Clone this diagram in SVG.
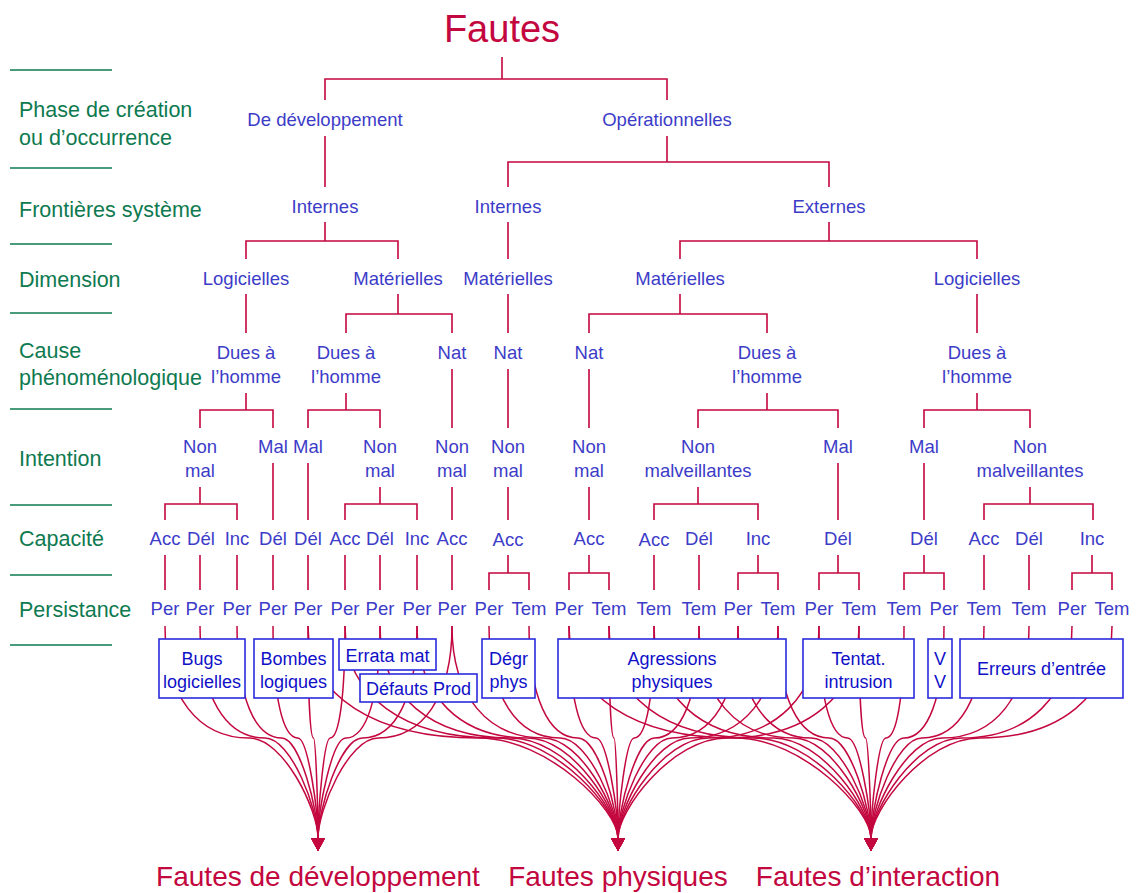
<svg xmlns="http://www.w3.org/2000/svg" width="1137" height="893" viewBox="0 0 1137 893">
  <style>
    text { font-family: "Liberation Sans", Arial, Helvetica, sans-serif; }
    .lbl { font-size: 18.5px; fill: #3c3cc8; text-anchor: middle; }
    .row { font-size: 21.5px; fill: #0e7a50; }
    .sep { stroke: #0e7a50; stroke-width: 1.5; }
    .edge { fill: none; stroke: #c3073f; stroke-width: 1.6; }
    .flow { fill: none; stroke: #c3073f; stroke-width: 1.5; marker-end: url(#arr); }
    .box rect { fill: #ffffff; stroke: #2b2bdd; stroke-width: 1.6; }
    .box text { font-size: 18px; fill: #1010c8; text-anchor: middle; }
    .title { font-size: 38px; fill: #c3073f; text-anchor: middle; }
    .out { font-size: 28px; fill: #c3073f; text-anchor: middle; }
  </style>
  <defs>
    <marker id="arr" viewBox="0 0 13 14" refX="0" refY="7" markerWidth="13" markerHeight="14" markerUnits="userSpaceOnUse" orient="auto">
      <path d="M0,0 L13,7 L0,14 z" fill="#c3073f"/>
    </marker>
  </defs>

  <!-- row captions on the left -->
  <g id="rows">
    <line class="sep" x1="10" y1="70" x2="112" y2="70"/>
    <line class="sep" x1="10" y1="168" x2="112" y2="168"/>
    <line class="sep" x1="10" y1="244" x2="112" y2="244"/>
    <line class="sep" x1="10" y1="313" x2="112" y2="313"/>
    <line class="sep" x1="10" y1="409" x2="112" y2="409"/>
    <line class="sep" x1="10" y1="505" x2="112" y2="505"/>
    <line class="sep" x1="10" y1="575" x2="112" y2="575"/>
    <line class="sep" x1="10" y1="645" x2="112" y2="645"/>
    <text class="row" x="19" y="117">Phase de création</text>
    <text class="row" x="19" y="145">ou d’occurrence</text>
    <text class="row" x="19" y="217">Frontières système</text>
    <text class="row" x="19" y="287">Dimension</text>
    <text class="row" x="19" y="358">Cause</text>
    <text class="row" x="19" y="385">phénoménologique</text>
    <text class="row" x="19" y="466">Intention</text>
    <text class="row" x="19" y="546">Capacité</text>
    <text class="row" x="19" y="617">Persistance</text>
  </g>

  <!-- connectors: tree edges and flows to the three fault groups -->
  <g id="connectors">
    <path class="edge" d="M502,57 V79 M325,100 V79 H667 V100
      M325,136 V187
      M667,136 V162 M508,187 V162 H829 V187
      M325,222 V241 M246,259 V241 H398 V259
      M508,222 V259
      M829,222 V241 M680,259 V241 H977 V259
      M246,294 V333
      M398,294 V314 M346,333 V314 H452 V333
      M508,294 V333
      M680,294 V314 M589,333 V314 H767 V333
      M977,294 V333
      M246,393 V410 M200,428 V410 H273 V428
      M346,393 V410 M308,428 V410 H380 V428
      M452,369 V428 M508,369 V428 M589,369 V428
      M767,393 V410 M698,428 V410 H838 V428
      M977,393 V410 M924,428 V410 H1030 V428
      M200,487 V504 M165,520 V504 H237 V520
      M273,463 V520 M308,463 V520
      M380,487 V504 M345,520 V504 H417 V520
      M452,487 V520 M508,487 V520 M589,487 V520
      M698,487 V504 M654,520 V504 H758 V520
      M838,463 V520 M924,463 V520
      M1030,487 V504 M984,520 V504 H1093 V520
      M165,555 V590 M200,555 V590 M237,555 V590 M273,555 V590 M308,555 V590
      M345,555 V590 M380,555 V590 M417,555 V590 M452,555 V590
      M508,555 V573 M489,590 V573 H529 V590
      M589,555 V573 M569,590 V573 H609 V590
      M654,555 V590 M699,555 V590
      M758,555 V573 M738,590 V573 H778 V590
      M838,555 V573 M819,590 V573 H859 V590
      M924,555 V573 M904,590 V573 H944 V590
      M984,555 V590 M1029,555 V590
      M1092,555 V573 M1072,590 V573 H1112 V590"/>

    <!-- to Fautes de développement -->
    <path class="flow" d="M165,626 C165,697 198.7,738 249.2,738 C283.6,738 318,810 318,838"/>
    <path class="flow" d="M200,626 C200,697 226,738 264.9,738 C291.5,738 318,810 318,838"/>
    <path class="flow" d="M237,626 C237,697 254.8,738 281.6,738 C299.8,738 318,810 318,838"/>
    <path class="flow" d="M273,626 C273,697 282.9,738 297.8,738 C307.9,738 318,810 318,838"/>
    <path class="flow" d="M308,626 C308,697 310.2,738 313.5,738 C315.8,738 318,810 318,838"/>
    <path class="flow" d="M345,626 C345,697 339.1,738 330.2,738 C324.1,738 318,810 318,838"/>
    <path class="flow" d="M380,626 C380,697 366.4,738 345.9,738 C332,738 318,810 318,838"/>
    <path class="flow" d="M417,626 C417,697 395.2,738 362.6,738 C340.3,738 318,810 318,838"/>
    <path class="flow" d="M452,626 C452,697 422.5,738 378.3,738 C348.1,738 318,810 318,838"/>

    <!-- to Fautes physiques -->
    <path class="flow" d="M308,626 C308,697 376.2,738 478.5,738 C548.3,738 618,810 618,838"/>
    <path class="flow" d="M345,626 C345,697 405.1,738 495.2,738 C556.6,738 618,810 618,838"/>
    <path class="flow" d="M380,626 C380,697 432.4,738 510.9,738 C564.5,738 618,810 618,838"/>
    <path class="flow" d="M417,626 C417,697 461.2,738 527.6,738 C572.8,738 618,810 618,838"/>
    <path class="flow" d="M452,626 C452,697 488.5,738 543.3,738 C580.7,738 618,810 618,838"/>
    <path class="flow" d="M489,626 C489,697 517.4,738 560,738 C589,738 618,810 618,838"/>
    <path class="flow" d="M529,626 C529,697 548.6,738 578,738 C598,738 618,810 618,838"/>
    <path class="flow" d="M569,626 C569,697 579.8,738 596,738 C607,738 618,810 618,838"/>
    <path class="flow" d="M609,626 C609,697 611,738 614,738 C616,738 618,810 618,838"/>
    <path class="flow" d="M654,626 C654,697 646.1,738 634.2,738 C626.1,738 618,810 618,838"/>
    <path class="flow" d="M699,626 C699,697 681.2,738 654.5,738 C636.2,738 618,810 618,838"/>
    <path class="flow" d="M738,626 C738,697 711.6,738 672,738 C645,738 618,810 618,838"/>
    <path class="flow" d="M778,626 C778,697 742.8,738 690,738 C654,738 618,810 618,838"/>
    <path class="flow" d="M819,626 C819,697 774.8,738 708.5,738 C663.2,738 618,810 618,838"/>
    <path class="flow" d="M859,626 C859,697 806,738 726.5,738 C672.2,738 618,810 618,838"/>

    <!-- to Fautes d'interaction -->
    <path class="flow" d="M569,626 C569,697 635.4,738 735.1,738 C803,738 871,810 871,838"/>
    <path class="flow" d="M609,626 C609,697 666.6,738 753.1,738 C812.1,738 871,810 871,838"/>
    <path class="flow" d="M654,626 C654,697 701.7,738 773.4,738 C822.2,738 871,810 871,838"/>
    <path class="flow" d="M699,626 C699,697 736.8,738 793.6,738 C832.3,738 871,810 871,838"/>
    <path class="flow" d="M738,626 C738,697 767.3,738 811.2,738 C841.1,738 871,810 871,838"/>
    <path class="flow" d="M778,626 C778,697 798.5,738 829.2,738 C850.1,738 871,810 871,838"/>
    <path class="flow" d="M819,626 C819,697 830.4,738 847.6,738 C859.3,738 871,810 871,838"/>
    <path class="flow" d="M859,626 C859,697 861.6,738 865.6,738 C868.3,738 871,810 871,838"/>
    <path class="flow" d="M904,626 C904,697 896.7,738 885.9,738 C878.4,738 871,810 871,838"/>
    <path class="flow" d="M944,626 C944,697 927.9,738 903.9,738 C887.4,738 871,810 871,838"/>
    <path class="flow" d="M984,626 C984,697 959.1,738 921.9,738 C896.4,738 871,810 871,838"/>
    <path class="flow" d="M1029,626 C1029,697 994.2,738 942.1,738 C906.6,738 871,810 871,838"/>
    <path class="flow" d="M1072,626 C1072,697 1027.8,738 961.5,738 C916.2,738 871,810 871,838"/>
    <path class="flow" d="M1112,626 C1112,697 1059,738 979.5,738 C925.2,738 871,810 871,838"/>
  </g>

  <!-- root -->
  <g id="n-fautes"><text class="title" x="502" y="42">Fautes</text></g>

  <!-- phase -->
  <g id="n-dev"><text class="lbl" x="325" y="126">De développement</text></g>
  <g id="n-op"><text class="lbl" x="667" y="126">Opérationnelles</text></g>

  <!-- system boundaries -->
  <g id="n-dev-int"><text class="lbl" x="325" y="213">Internes</text></g>
  <g id="n-op-int"><text class="lbl" x="508" y="213">Internes</text></g>
  <g id="n-op-ext"><text class="lbl" x="829" y="213">Externes</text></g>

  <!-- dimension -->
  <g id="n-d-log"><text class="lbl" x="246" y="285">Logicielles</text></g>
  <g id="n-d-mat"><text class="lbl" x="398" y="285">Matérielles</text></g>
  <g id="n-oi-mat"><text class="lbl" x="508" y="285">Matérielles</text></g>
  <g id="n-oe-mat"><text class="lbl" x="680" y="285">Matérielles</text></g>
  <g id="n-oe-log"><text class="lbl" x="977" y="285">Logicielles</text></g>

  <!-- phenomenological cause -->
  <g id="c1"><text class="lbl" x="246" y="359">Dues à<tspan x="246" dy="24">l’homme</tspan></text></g>
  <g id="c2"><text class="lbl" x="346" y="359">Dues à<tspan x="346" dy="24">l’homme</tspan></text></g>
  <g id="c3"><text class="lbl" x="452" y="359">Nat</text></g>
  <g id="c4"><text class="lbl" x="508" y="359">Nat</text></g>
  <g id="c5"><text class="lbl" x="589" y="359">Nat</text></g>
  <g id="c6"><text class="lbl" x="767" y="359">Dues à<tspan x="767" dy="24">l’homme</tspan></text></g>
  <g id="c7"><text class="lbl" x="977" y="359">Dues à<tspan x="977" dy="24">l’homme</tspan></text></g>

  <!-- intention -->
  <g id="i1"><text class="lbl" x="200" y="453">Non<tspan x="200" dy="24">mal</tspan></text></g>
  <g id="i2"><text class="lbl" x="273" y="453">Mal</text></g>
  <g id="i3"><text class="lbl" x="308" y="453">Mal</text></g>
  <g id="i4"><text class="lbl" x="380" y="453">Non<tspan x="380" dy="24">mal</tspan></text></g>
  <g id="i5"><text class="lbl" x="452" y="453">Non<tspan x="452" dy="24">mal</tspan></text></g>
  <g id="i6"><text class="lbl" x="508" y="453">Non<tspan x="508" dy="24">mal</tspan></text></g>
  <g id="i7"><text class="lbl" x="589" y="453">Non<tspan x="589" dy="24">mal</tspan></text></g>
  <g id="i8"><text class="lbl" x="698" y="453">Non<tspan x="698" dy="24">malveillantes</tspan></text></g>
  <g id="i9"><text class="lbl" x="838" y="453">Mal</text></g>
  <g id="i10"><text class="lbl" x="924" y="453">Mal</text></g>
  <g id="i11"><text class="lbl" x="1030" y="453">Non<tspan x="1030" dy="24">malveillantes</tspan></text></g>

  <!-- capability -->
  <g id="k1"><text class="lbl" x="165" y="545">Acc</text></g>
  <g id="k2"><text class="lbl" x="201" y="545">Dél</text></g>
  <g id="k3"><text class="lbl" x="237" y="545">Inc</text></g>
  <g id="k4"><text class="lbl" x="273" y="545">Dél</text></g>
  <g id="k5"><text class="lbl" x="308" y="545">Dél</text></g>
  <g id="k6"><text class="lbl" x="345" y="545">Acc</text></g>
  <g id="k7"><text class="lbl" x="380" y="545">Dél</text></g>
  <g id="k8"><text class="lbl" x="417" y="545">Inc</text></g>
  <g id="k9"><text class="lbl" x="452" y="545">Acc</text></g>
  <g id="k10"><text class="lbl" x="508" y="546">Acc</text></g>
  <g id="k11"><text class="lbl" x="589" y="545">Acc</text></g>
  <g id="k12"><text class="lbl" x="654" y="546">Acc</text></g>
  <g id="k13"><text class="lbl" x="699" y="545">Dél</text></g>
  <g id="k14"><text class="lbl" x="758" y="545">Inc</text></g>
  <g id="k15"><text class="lbl" x="838" y="545">Dél</text></g>
  <g id="k16"><text class="lbl" x="924" y="545">Dél</text></g>
  <g id="k17"><text class="lbl" x="984" y="545">Acc</text></g>
  <g id="k18"><text class="lbl" x="1029" y="545">Dél</text></g>
  <g id="k19"><text class="lbl" x="1092" y="545">Inc</text></g>

  <!-- persistence -->
  <g id="p1"><text class="lbl" x="165" y="615">Per</text></g>
  <g id="p2"><text class="lbl" x="200" y="615">Per</text></g>
  <g id="p3"><text class="lbl" x="237" y="615">Per</text></g>
  <g id="p4"><text class="lbl" x="273" y="615">Per</text></g>
  <g id="p5"><text class="lbl" x="308" y="615">Per</text></g>
  <g id="p6"><text class="lbl" x="345" y="615">Per</text></g>
  <g id="p7"><text class="lbl" x="380" y="615">Per</text></g>
  <g id="p8"><text class="lbl" x="417" y="615">Per</text></g>
  <g id="p9"><text class="lbl" x="452" y="615">Per</text></g>
  <g id="p10"><text class="lbl" x="489" y="615">Per</text></g>
  <g id="p11"><text class="lbl" x="529" y="615">Tem</text></g>
  <g id="p12"><text class="lbl" x="569" y="615">Per</text></g>
  <g id="p13"><text class="lbl" x="609" y="615">Tem</text></g>
  <g id="p14"><text class="lbl" x="654" y="615">Tem</text></g>
  <g id="p15"><text class="lbl" x="699" y="615">Tem</text></g>
  <g id="p16"><text class="lbl" x="738" y="615">Per</text></g>
  <g id="p17"><text class="lbl" x="778" y="615">Tem</text></g>
  <g id="p18"><text class="lbl" x="819" y="615">Per</text></g>
  <g id="p19"><text class="lbl" x="859" y="615">Tem</text></g>
  <g id="p20"><text class="lbl" x="904" y="615">Tem</text></g>
  <g id="p21"><text class="lbl" x="944" y="615">Per</text></g>
  <g id="p22"><text class="lbl" x="984" y="615">Tem</text></g>
  <g id="p23"><text class="lbl" x="1029" y="615">Tem</text></g>
  <g id="p24"><text class="lbl" x="1072" y="615">Per</text></g>
  <g id="p25"><text class="lbl" x="1112" y="615">Tem</text></g>

  <!-- named fault classes -->
  <g id="b-bugs" class="box"><rect x="159" y="639" width="86" height="59"/><text x="202" y="665">Bugs<tspan x="202" dy="23">logicielles</tspan></text></g>
  <g id="b-bombes" class="box"><rect x="254" y="639" width="79" height="59"/><text x="293.5" y="665">Bombes<tspan x="293.5" dy="23">logiques</tspan></text></g>
  <g id="b-errata" class="box"><rect x="339" y="639" width="97" height="31"/><text x="387.5" y="662">Errata mat</text></g>
  <g id="b-defauts" class="box"><rect x="360" y="674" width="117" height="28"/><text x="418.5" y="695">Défauts Prod</text></g>
  <g id="b-degr" class="box"><rect x="482" y="639" width="53" height="59"/><text x="508.5" y="665">Dégr<tspan x="508.5" dy="23">phys</tspan></text></g>
  <g id="b-agress" class="box"><rect x="558" y="639" width="228" height="59"/><text x="672" y="665">Agressions<tspan x="672" dy="23">physiques</tspan></text></g>
  <g id="b-tentat" class="box"><rect x="803" y="639" width="111" height="59"/><text x="858.5" y="665">Tentat.<tspan x="858.5" dy="23">intrusion</tspan></text></g>
  <g id="b-vv" class="box"><rect x="928" y="639" width="24" height="59"/><text x="940" y="665">V<tspan x="940" dy="23">V</tspan></text></g>
  <g id="b-erreurs" class="box"><rect x="960" y="639" width="163" height="59"/><text x="1041.5" y="675">Erreurs d’entrée</text></g>

  <!-- resulting groups -->
  <g id="g-dev"><text class="out" x="318" y="886">Fautes de développement</text></g>
  <g id="g-phys"><text class="out" x="618" y="886">Fautes physiques</text></g>
  <g id="g-inter"><text class="out" x="878" y="886">Fautes d’interaction</text></g>
</svg>
